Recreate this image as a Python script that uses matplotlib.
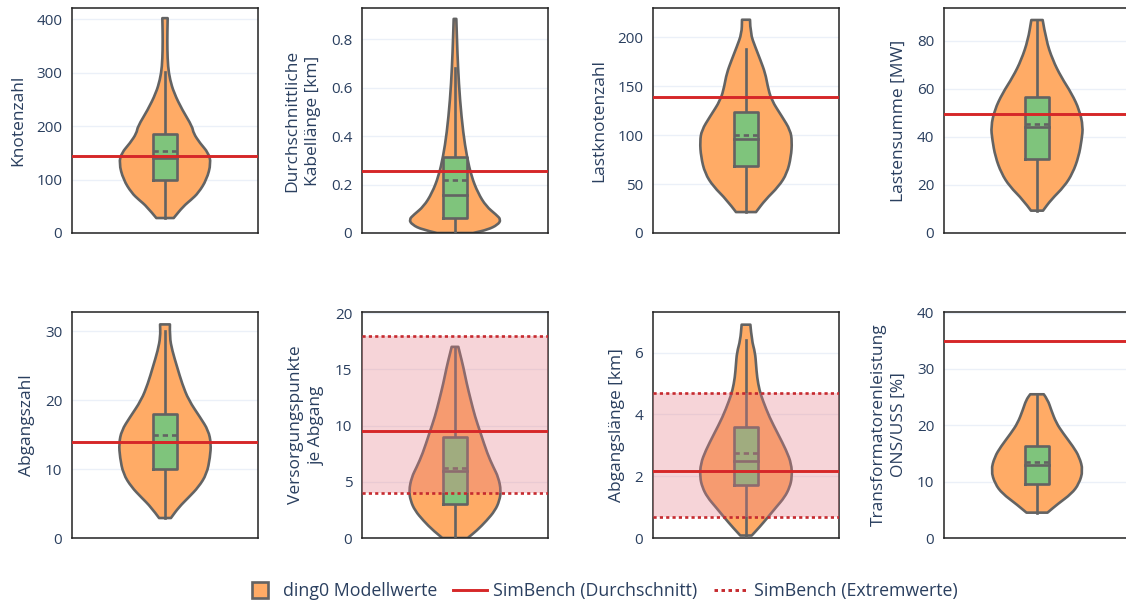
import matplotlib.pyplot as plt
import numpy as np
from matplotlib.lines import Line2D
from matplotlib.path import Path
from matplotlib.patches import PathPatch

plt.rcParams['font.family'] = ['Open Sans', 'DejaVu Sans']

# ---- data ----
labels = ["Knotenzahl", "Durchschnittliche\nKabellänge [km]", "Lastknotenzahl",
          "Lastensumme [MW]", "Abgangszahl", "Versorgungspunkte\nje Abgang",
          "Abgangslänge [km]", "Transformatorenleistung\nONS/USS [%]"]
ylims = [(0, 421), (0, 0.93), (0, 230), (0, 93.6),
         (0, 32.8), (0, 20.1), (0, 7.31), (0, 40.1)]
yticks = [[0, 100, 200, 300, 400], [0, 0.2, 0.4, 0.6, 0.8], [0, 50, 100, 150, 200],
          [0, 20, 40, 60, 80], [0, 10, 20, 30], [0, 5, 10, 15, 20],
          [0, 2, 4, 6], [0, 10, 20, 30, 40]]

# violin outlines: value grid and (relative) half width
v1_y = [28, 50, 62, 75, 100, 131, 150, 168, 187, 199, 230, 262, 287, 311, 343, 374, 402]
v1_w = [26, 55, 78, 100, 125, 138, 130, 105, 85, 82, 52, 27, 15, 9, 7, 7, 8]
v2_y = [0, 0.014, 0.034, 0.055, 0.076, 0.11, 0.165, 0.234, 0.317, 0.413, 0.55, 0.689, 0.8, 0.885]
v2_w = [55, 100, 130, 140, 125, 95, 70, 50, 36, 25, 15, 9, 6, 4]
v3_y = [21.4, 34, 47.6, 61, 78, 93.5, 105, 119, 136, 150, 163, 177, 190, 204, 218]
v3_w = [30, 58, 98, 123, 135, 138, 133, 108, 76, 65, 58, 43, 28, 13, 12]
v4_y = [9.3, 13.8, 19.4, 24.9, 31.8, 38.8, 44.3, 51.2, 58, 65, 72, 80.3, 88.6]
v4_w = [18, 42, 82, 107, 125, 134, 138, 127, 104, 72, 47, 27, 17]
v5_y = [2.9, 4.46, 5.9, 7.4, 9.3, 11.7, 13.7, 15.6, 17.5, 20, 22.4, 24.8, 27.2, 29.2, 31]
v5_w = [18, 42, 72, 102, 127, 137, 140, 132, 107, 72, 52, 37, 22, 14, 15]
v6_y = [0, 0.65, 1.55, 2.44, 3.3, 4.2, 5.4, 6.3, 7.5, 9.3, 10.8, 12.3, 13.75, 15.2, 16.4, 17]
v6_w = [38, 65, 95, 120, 133, 138, 130, 115, 97, 77, 60, 47, 35, 25, 15, 10]
v7_y = [0.08, 0.35, 0.67, 1.0, 1.32, 1.64, 1.97, 2.4, 2.83, 3.37, 3.9, 4.45, 4.78, 5.2, 5.6, 6.0, 6.4, 6.9]
v7_w = [17, 40, 65, 90, 115, 130, 137, 135, 120, 95, 70, 50, 40, 33, 30, 27, 17, 13]
v8_y = [4.5, 6.07, 7.86, 9.6, 12, 14.4, 16.2, 18.6, 20.4, 22.7, 24.5, 25.5]
v8_w = [31, 62, 102, 124, 136, 125, 107, 77, 57, 42, 32, 20]

violin_y = [v1_y, v2_y, v3_y, v4_y, v5_y, v6_y, v7_y, v8_y]
violin_w = [v1_w, v2_w, v3_w, v4_w, v5_w, v6_w, v7_w, v8_w]

# box stats: lower whisker, q1, median, mean, q3, upper whisker
box_stats = [
    (28, 100, 140, 153, 185, 302),
    (0.0, 0.062, 0.156, 0.22, 0.313, 0.682),
    (21.4, 68, 96, 99.7, 123.5, 188),
    (9.3, 30.7, 43.9, 45.5, 56.5, 88.6),
    (2.9, 10, 14, 15, 18, 30),
    (0, 3, 6, 6.25, 9, 17),
    (0.08, 1.7, 2.49, 2.76, 3.59, 6.4),
    (4.5, 9.5, 12.9, 13.4, 16.4, 25.5),
]

simbench_mean = [144, 0.256, 139, 49.7, 14, 9.5, 2.18, 35]
simbench_min = [None, None, None, None, None, 4.0, 0.69, None]
simbench_max = [None, None, None, None, None, 18.0, 4.69, None]

# ---- style ----
c_violin = '#FFAB66'
c_box = '#7FC47C'
c_edge = '#636363'
c_red = '#D62728'
c_dot = '#C62A2F'
c_band = '#E67C86'
c_text = '#2A3F5F'
c_grid = '#EBF0F8'


def smooth_side(xs, ys):
    # quadratic bezier through midpoints, read points act as control points
    verts = [(xs[0], ys[0])]
    codes = []
    for k in range(1, len(xs) - 1):
        verts.append((xs[k], ys[k]))
        verts.append(((xs[k] + xs[k + 1]) / 2, (ys[k] + ys[k + 1]) / 2))
        codes += [Path.CURVE3, Path.CURVE3]
    verts.append((xs[-1], ys[-1]))
    codes.append(Path.LINETO)
    return verts, codes


def violin_path(y, w):
    lv, lc = smooth_side(-w, y)
    rv, rc = smooth_side(w[::-1], y[::-1])
    verts = lv + rv + [lv[0]]
    codes = [Path.MOVETO] + lc + [Path.LINETO] + rc + [Path.CLOSEPOLY]
    return Path(verts, codes)


W, H = 1126, 603
fig = plt.figure(figsize=(W / 100, H / 100), dpi=100)

lefts = [72, 362, 653, 944]
rows = [(8, 233), (312, 538)]
aw = 186
lw = 1.9

for i in range(8):
    r, c = divmod(i, 4)
    top, bot = rows[r]
    ax = fig.add_axes([lefts[c] / W, 1 - bot / H, aw / W, (bot - top) / H])

    y = np.array(violin_y[i], dtype=float)
    w = np.array(violin_w[i], dtype=float)
    w = w / w.max() * 0.495

    ax.add_patch(PathPatch(violin_path(y, w), facecolor=c_violin,
                           edgecolor=c_edge, lw=lw, zorder=2,
                           joinstyle='round'))

    lo, q1, med, mean, q3, hi = box_stats[i]
    bw = 0.126
    ax.plot([0, 0], [lo, hi], color=c_edge, lw=lw, zorder=3)
    ax.fill_between([-bw, bw], q1, q3, color=c_box, zorder=4, lw=0)
    ax.plot([-bw, bw, bw, -bw, -bw], [q1, q1, q3, q3, q1], color=c_edge,
            lw=lw, zorder=5)
    ax.plot([-bw, bw], [med, med], color=c_edge, lw=lw, zorder=5)
    ax.plot([-bw, bw], [mean, mean], color=c_edge, lw=lw, ls=(0, (2, 1.5)),
            zorder=5)

    if simbench_min[i] is not None:
        ax.axhspan(simbench_min[i], simbench_max[i], color=c_band, alpha=0.32,
                   lw=0, zorder=6)
        for v in (simbench_min[i], simbench_max[i]):
            ax.axhline(v, color=c_dot, lw=lw, ls=(0, (1.2, 1.2)), zorder=7)
    ax.axhline(simbench_mean[i], color=c_red, lw=lw + 0.2, zorder=8)

    ax.set_xlim(-1, 1)
    ax.set_ylim(*ylims[i])
    ax.set_yticks(yticks[i])
    ax.set_yticklabels([f"{t:g}" for t in yticks[i]])
    ax.set_xticks([])
    ax.tick_params(axis='y', length=0, pad=7, labelsize=11, labelcolor=c_text)
    ax.grid(axis='y', color=c_grid, lw=1, zorder=0)
    ax.set_axisbelow(True)
    for s in ax.spines.values():
        s.set_color('#222222')
        s.set_linewidth(1.1)
    ax.set_ylabel(labels[i], fontsize=12.5, color=c_text, linespacing=1.4,
                  labelpad=7)

handles = [Line2D([], [], ls='none', marker='s', markersize=11,
                  markerfacecolor=c_violin, markeredgecolor=c_edge,
                  markeredgewidth=1.9),
           Line2D([0], [0], color=c_red, lw=2.1),
           Line2D([0], [0], color=c_dot, lw=2.1, ls=(0, (1.2, 1.2)))]
fig.legend(handles, ["ding0 Modellwerte", "SimBench (Durchschnitt)",
                     "SimBench (Extremwerte)"],
           loc='center', bbox_to_anchor=(0.533, 1 - 591 / H), ncol=3,
           frameon=False, fontsize=12.8, labelcolor=c_text,
           handlelength=1.9, columnspacing=0.9, handletextpad=0.35)

fig.savefig('out.png', dpi=100)
